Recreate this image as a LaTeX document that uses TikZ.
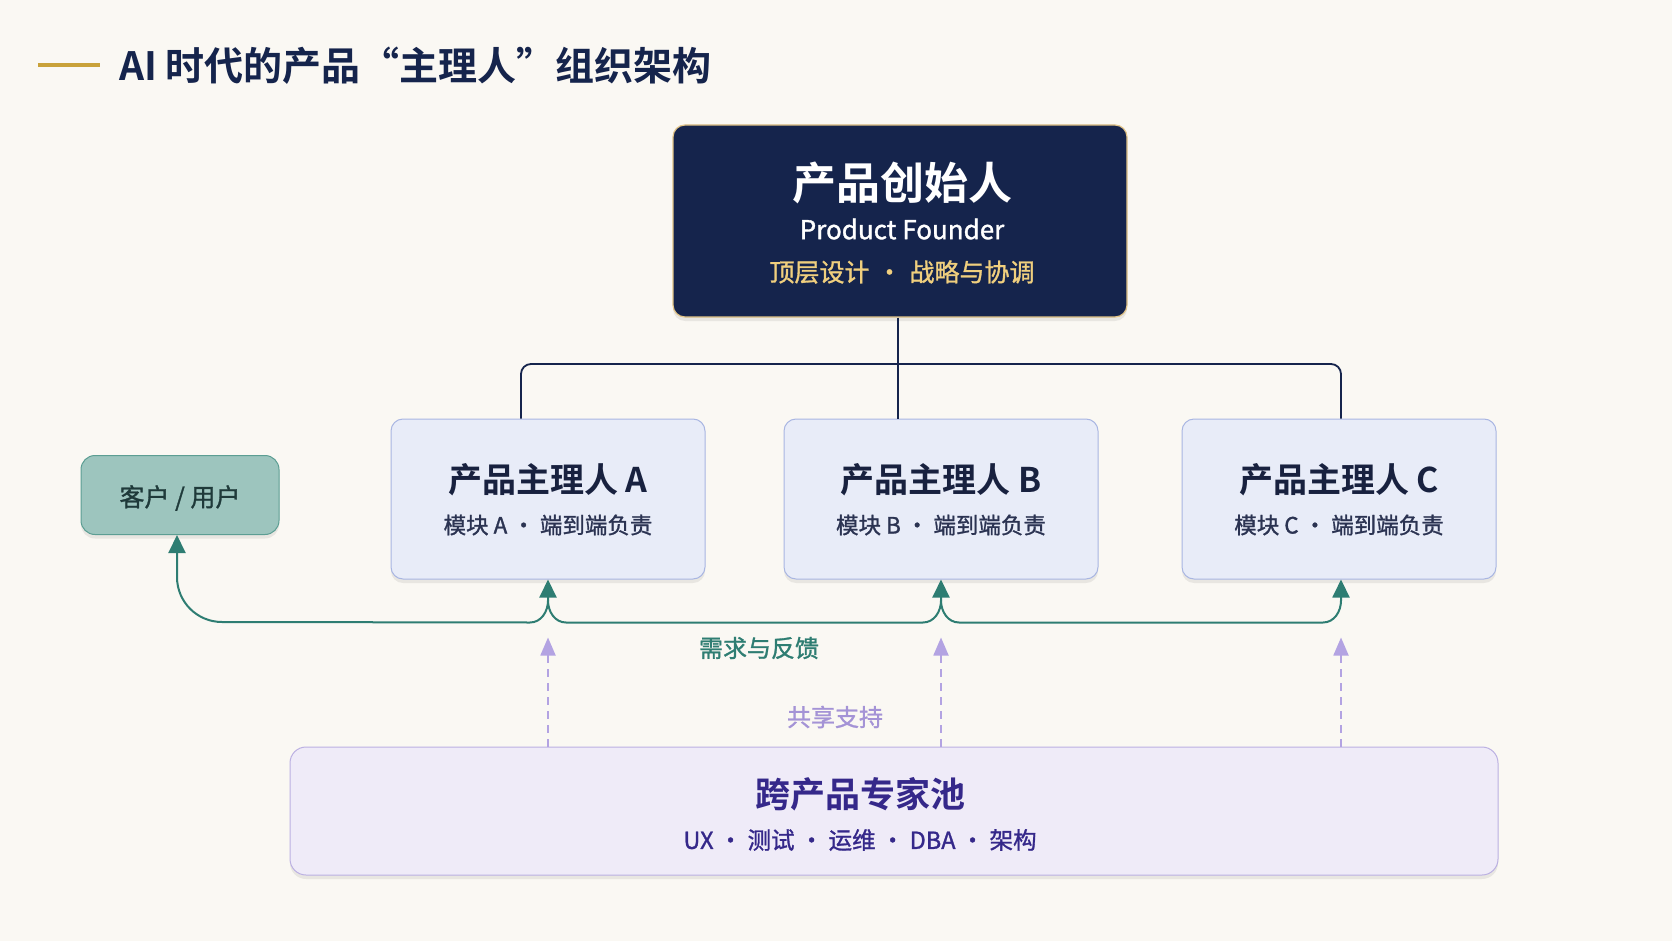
\documentclass[tikz,border=0pt]{standalone}
\usepackage{fontspec}
\setmainfont{Noto Sans CJK SC}[BoldFont={Noto Sans CJK SC Bold}]
\newfontfamily\medfont{Noto Sans CJK SC}[FakeBold=1.2]
\usetikzlibrary{arrows.meta,calc,shadows}
\definecolor{bg}{HTML}{FAF8F3}
\definecolor{navy}{HTML}{15244C}
\definecolor{gold}{HTML}{C9A23A}
\definecolor{goldtxt}{HTML}{F0CF7E}
\definecolor{goldbd}{HTML}{E2C487}
\definecolor{boxfill}{HTML}{E8ECF8}
\definecolor{boxbd}{HTML}{A9B6E2}
\definecolor{boxtxt}{HTML}{18213F}
\definecolor{subtxt}{HTML}{2B3352}
\definecolor{tealfill}{HTML}{9DC5BE}
\definecolor{tealbd}{HTML}{5C9E93}
\definecolor{tealln}{HTML}{2E7D72}
\definecolor{custtxt}{HTML}{1F3A3A}
\definecolor{purln}{HTML}{B3A3E2}
\definecolor{purtxt}{HTML}{A493D6}
\definecolor{poolfill}{HTML}{EFEBF8}
\definecolor{poolbd}{HTML}{BBB0E2}
\definecolor{pooltxt}{HTML}{35288A}
\tikzset{
  card/.style={draw, rounded corners=12pt, line width=1pt, drop shadow={shadow xshift=0pt, shadow yshift=-4pt, opacity=0.12, fill=black!60}},
  founderbox/.style={card, fill=navy, draw=goldbd, line width=1.2pt},
  pmbox/.style={card, fill=boxfill, draw=boxbd},
  custbox/.style={card, fill=tealfill, draw=tealbd, rounded corners=14pt},
  poolbox/.style={card, fill=poolfill, draw=poolbd, rounded corners=16pt},
  tree/.style={draw=navy, line width=1.8pt, rounded corners=10pt},
  fb/.style={draw=tealln, line width=2pt},
  ttip/.tip={Triangle[length=18pt,width=17pt]},
  tealtip/.style={-ttip},
  sup/.style={draw=purln, line width=1.8pt, dash pattern=on 8pt off 6pt, -{Triangle[length=18pt,width=15pt,fill=purln]}},
}
\begin{document}
\begin{tikzpicture}[x=1pt,y=-1pt]
\fill[bg] (0,0) rectangle (1672,941);
\useasboundingbox (0,0) rectangle (1672,941);
% title
\draw[gold, line width=4pt] (38,65) -- (100,65);
\node[anchor=west, font=\bfseries\fontsize{39}{43}\selectfont, text=navy, inner sep=0] (title) at (119,66) {AI 时代的产品“主理人”组织架构};
% founder
\node[founderbox, minimum width=454pt, minimum height=192pt] (F) at (900,221) {};
\node[font=\bfseries\fontsize{44}{48}\selectfont, text=white] (Ft) at (902,183) {产品创始人};
\node[font=\medfont\fontsize{26}{30}\selectfont, text=white] (Fe) at (902,229) {Product Founder};
\node[font=\medfont\fontsize{25}{28}\selectfont, text=goldtxt] (Fs) at (902,272) {顶层设计\hspace{0.3em}·\hspace{0.3em}战略与协调};
% product owners
\node[pmbox, minimum width=314pt, minimum height=160pt] (A) at (548,499) {};
\node[pmbox, minimum width=314pt, minimum height=160pt] (B) at (941,499) {};
\node[pmbox, minimum width=314pt, minimum height=160pt] (C) at (1339,499) {};
\foreach \n/\l in {A/A,B/B,C/C}{
  \node[font=\bfseries\fontsize{34}{38}\selectfont, text=boxtxt] (\n t) at ($(\n)+(0,-19)$) {产品主理人 \l};
  \node[font=\medfont\fontsize{22.5}{26}\selectfont, text=subtxt] (\n s) at ($(\n)+(0,26)$) {模块 \l\ · 端到端负责};
}
% customer
\node[custbox, minimum width=198pt, minimum height=79pt] (K) at (180,495) {};
\node[font=\medfont\fontsize{25}{28}\selectfont, text=custtxt] (Kt) at ($(K)+(0,3)$) {客户 / 用户};
% pool
\node[poolbox, minimum width=1208pt, minimum height=128pt] (P) at (894,811) {};
\node[font=\bfseries\fontsize{35}{38}\selectfont, text=pooltxt] (Pt) at (860,794) {跨产品专家池};
\node[font=\medfont\fontsize{23.5}{26}\selectfont, text=pooltxt] (Ps) at (860,840) {UX · 测试 · 运维 · DBA · 架构};
% tree
\coordinate (j) at (898,364);
\draw[tree, rounded corners=0pt] (j |- F.south) -- (j |- B.north);
\draw[tree] ($(A.north)+(-27,0)$) |- (j) -| ($(C.north)+(2,0)$);
% feedback bus
\coordinate (kb) at ($(K.south)+(-3,0)$);
\draw[fb, ttip-ttip] (kb) -- ($(kb)+(0,42)$) to[out=-90,in=180] ($(kb)+(45,87)$) -- ($(A.south)+(-18,43)$) to[out=0,in=-90] ($(A.south)+(0,21)$) -- (A.south);
\draw[fb, tealtip] ($(A.south)+(0,21)$) to[out=-90,in=180] ($(A.south)+(18,43)$) -- ($(B.south)+(-18,43)$) to[out=0,in=-90] ($(B.south)+(0,21)$) -- (B.south);
\draw[fb, tealtip] ($(B.south)+(0,21)$) to[out=-90,in=180] ($(B.south)+(18,43)$) -- ($(C.south)+(-16,43)$) to[out=0,in=-90] ($(C.south)+(2,21)$) -- ($(C.south)+(2,0)$);
\node[font=\medfont\fontsize{24}{27}\selectfont, text=tealln] (fbl) at (759,648) {需求与反馈};
% shared support
\foreach \n/\d in {A/0,B/0,C/2}{
  \draw[sup] ($(\n.south |- P.north)+(\d,0)$) -- ($(\n.south)+(\d,58)$);
}
\node[font=\medfont\fontsize{24}{27}\selectfont, text=purtxt] (spl) at (835,717) {共享支持};
\end{tikzpicture}
\end{document}
